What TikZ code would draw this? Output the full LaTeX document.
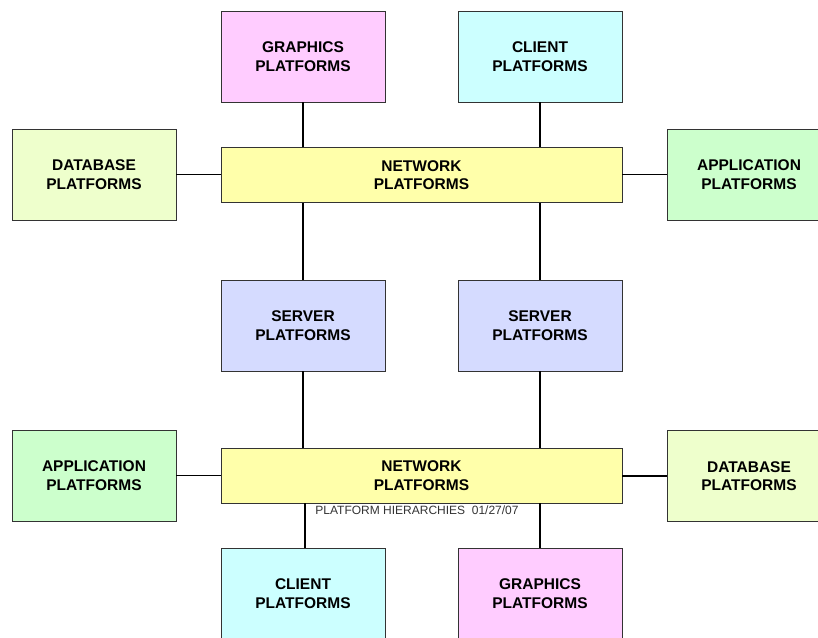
\documentclass[tikz,border=0pt]{standalone}
\usepackage{fontspec}
\setmainfont{Liberation Sans}
\definecolor{graphicsfill}{HTML}{FFCCFF}
\definecolor{clientfill}{HTML}{CCFFFF}
\definecolor{networkfill}{HTML}{FFFFAA}
\definecolor{databasefill}{HTML}{EEFFCC}
\definecolor{appfill}{HTML}{CCFFCC}
\definecolor{serverfill}{HTML}{D5DBFF}
\definecolor{edgegray}{HTML}{333333}
\tikzset{
  platform/.style={draw=edgegray, line width=0.9pt, minimum width=164pt, minimum height=91pt,
    align=center, inner sep=0pt, font=\fontsize{15.5}{18.5}\selectfont\bfseries},
  netbox/.style={platform, minimum width=401pt, minimum height=55pt, fill=networkfill},
  link/.style={line width=1.4pt, black},
  caption/.style={font=\fontsize{12}{14}\selectfont, text=edgegray, inner sep=0pt}
}
\begin{document}
\begin{tikzpicture}[x=1pt,y=-1pt]
\useasboundingbox (0,0) rectangle (818,637);
% upper tier
\node[platform, fill=graphicsfill] (graphicsT) at (303,56.5) {GRAPHICS\\PLATFORMS};
\node[platform, fill=clientfill] (clientT) at (540,56.5) {CLIENT\\PLATFORMS};
\node[netbox] (netT) at (421.5,175) {NETWORK\\PLATFORMS};
\node[platform, fill=databasefill] (dbT) at (94,174.5) {DATABASE\\PLATFORMS};
\node[platform, fill=appfill] (appT) at (749,174.5) {APPLICATION\\PLATFORMS};
% servers
\node[platform, fill=serverfill] (serverL) at (303,325.5) {SERVER\\PLATFORMS};
\node[platform, fill=serverfill] (serverR) at (540,325.5) {SERVER\\PLATFORMS};
% lower tier
\node[netbox] (netB) at (421.5,475.5) {NETWORK\\PLATFORMS};
\node[platform, fill=appfill] (appB) at (94,475.5) {APPLICATION\\PLATFORMS};
\node[platform, fill=databasefill] (dbB) at (749,476) {DATABASE\\PLATFORMS};
\node[platform, fill=clientfill] (clientB) at (303,593.5) {CLIENT\\PLATFORMS};
\node[platform, fill=graphicsfill] (graphicsB) at (540,593.5) {GRAPHICS\\PLATFORMS};
\node[caption] (title) at (417,510.5) {PLATFORM HIERARCHIES\ \ 01/27/07};
% connectors
\draw[link] (graphicsT.south) -- (graphicsT.south |- netT.north);
\draw[link] (clientT.south) -- (clientT.south |- netT.north);
\draw[link] (dbT.east) -- (dbT.east -| netT.west);
\draw[link] (appT.west) -- (appT.west -| netT.east);
\draw[link] (serverL.north) -- (serverL.north |- netT.south);
\draw[link] (serverR.north) -- (serverR.north |- netT.south);
\draw[link] (serverL.south) -- (serverL.south |- netB.north);
\draw[link] (serverR.south) -- (serverR.south |- netB.north);
\draw[link] (appB.east) -- (appB.east -| netB.west);
\draw[link] (dbB.west) -- (dbB.west -| netB.east);
\draw[link] ([xshift=2pt]clientB.north) -- ([xshift=2pt]clientB.north |- netB.south);
\draw[link] (graphicsB.north) -- (graphicsB.north |- netB.south);
\end{tikzpicture}
\end{document}
